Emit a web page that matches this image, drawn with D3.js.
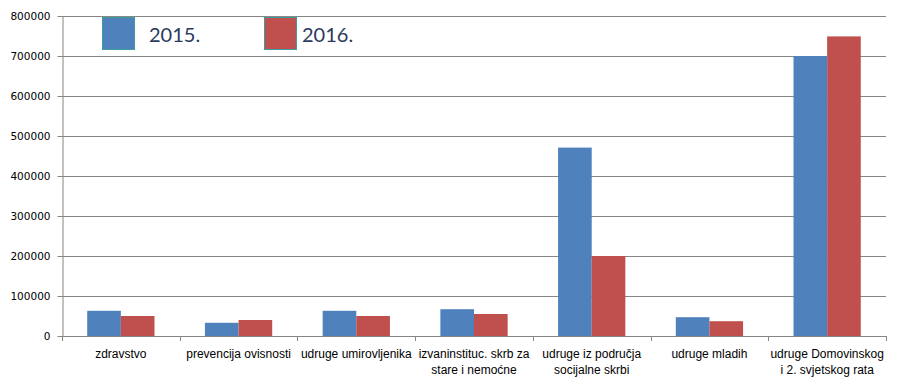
<!DOCTYPE html>
<meta charset="utf-8">
<style>
  body { margin: 0; background: #fff; }
  .grid line { stroke: #868686; stroke-width: 1; }
  .y.axis text { font-family: "DejaVu Sans", sans-serif; font-size: 10.5px; fill: #000; }
  .y.axis path, .y.axis line { stroke: #868686; }
  .xlabel { font-family: "Liberation Sans", Arial, sans-serif; font-size: 12px; fill: #000; }
  .legend text { font-family: Lato, "Open Sans", sans-serif; font-size: 20px; fill: #2b3a5e; }
</style>
<body></body>
<script src="https://d3js.org/d3.v7.min.js"></script>
<script>

// categories (tick labels, already split in lines as in the picture)
var categories = [
  ["zdravstvo"],
  ["prevencija ovisnosti"],
  ["udruge umirovljenika"],
  ["izvaninstituc. skrb za", "stare i nemoćne"],
  ["udruge iz područja", "socijalne skrbi"],
  ["udruge mladih"],
  ["udruge Domovinskog", "i 2. svjetskog rata"]
];
var series = ["2015.", "2016."];
var values2015 = [63000, 33000, 63000, 67000, 471000, 47000, 700000];
var values2016 = [50000, 40000, 50000, 55000, 200000, 37000, 749000];
var yTicks = [0, 100000, 200000, 300000, 400000, 500000, 600000, 700000, 800000];

var colors = ["#4f81bd", "#c0504d"];

var margin = {top: 16, right: 17, bottom: 51, left: 62},
    W = 903, H = 387,
    width = W - margin.left - margin.right,
    height = H - margin.top - margin.bottom;

var svg = d3.select("body").append("svg")
    .attr("width", W)
    .attr("height", H);

var g = svg.append("g")
    .attr("transform", "translate(" + margin.left + "," + margin.top + ")");

var keys = categories.map(function(d, i) { return i; });

var x0 = d3.scaleBand().domain(keys).range([0, width]).padding(0);
var x1 = d3.scaleBand().domain(series).range([0, x0.bandwidth()])
    .paddingInner(0).paddingOuter(0.75);
var y = d3.scaleLinear().domain([0, 800000]).range([height, 0]);

// gridlines
g.append("g").attr("class", "grid")
  .selectAll("line").data(yTicks.slice(1)).enter().append("line")
    .attr("x1", 0).attr("x2", width)
    .attr("y1", function(d) { return Math.round(y(d)) + 0.5; })
    .attr("y2", function(d) { return Math.round(y(d)) + 0.5; });

// y axis
g.append("g").attr("class", "y axis")
    .attr("transform", "translate(0.5,0)")
    .call(d3.axisLeft(y).tickValues(yTicks).tickSize(5).tickPadding(7).tickSizeOuter(0)
      .tickFormat(d3.format("d")));

// bars
var data = keys.map(function(i) { return [values2015[i], values2016[i]]; });
var groups = g.selectAll(".cat").data(data).enter().append("g")
    .attr("transform", function(d, i) { return "translate(" + x0(i) + ",0)"; });
groups.selectAll("rect").data(function(d) { return d; }).enter().append("rect")
    .attr("x", function(d, j) { return x1(series[j]); })
    .attr("width", x1.bandwidth())
    .attr("y", function(d) { return y(d); })
    .attr("height", function(d) { return height - y(d); })
    .attr("fill", function(d, j) { return colors[j]; });

// x axis line + ticks at category borders
g.append("line")
    .attr("x1", 0).attr("x2", width)
    .attr("y1", height + 0.5).attr("y2", height + 0.5)
    .attr("stroke", "#868686");
g.selectAll(".xtick").data(keys.concat([keys.length])).enter().append("line")
    .attr("x1", function(d) { return Math.round(d * x0.step()) + 0.5; })
    .attr("x2", function(d) { return Math.round(d * x0.step()) + 0.5; })
    .attr("y1", height).attr("y2", height + 5)
    .attr("stroke", "#868686");

// x labels
var labels = g.selectAll(".xlabel").data(categories).enter().append("text")
    .attr("class", "xlabel")
    .attr("text-anchor", "middle")
    .attr("transform", function(d, i) {
      return "translate(" + (x0(i) + x0.bandwidth() / 2) + "," + (height + 22) + ")";
    });
labels.selectAll("tspan").data(function(d) { return d; }).enter().append("tspan")
    .attr("x", 0)
    .attr("dy", function(d, k) { return k === 0 ? 0 : 15.5; })
    .text(function(d) { return d; });

// legend
var legend = svg.append("g").attr("class", "legend");
var legendX = [102, 264];
series.forEach(function(s, j) {
  legend.append("rect")
      .attr("x", legendX[j] + 0.5).attr("y", 17.5)
      .attr("width", 32).attr("height", 32)
      .attr("fill", colors[j])
      .attr("stroke", "#3d9c9c");
  legend.append("text")
      .attr("x", legendX[j] + (j === 0 ? 47 : 38))
      .attr("y", 41.5)
      .text(s);
});

</script>
